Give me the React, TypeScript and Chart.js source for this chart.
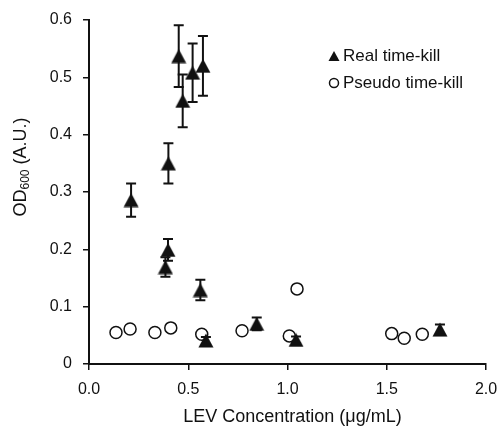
import React, { useEffect, useRef } from 'react';
import { Chart, registerables } from 'chart.js';

Chart.register(...registerables);

// ---- data ----
const realX = [0.212, 0.400, 0.398, 0.385, 0.452, 0.472, 0.522, 0.574, 0.561, 0.589, 0.845, 1.043, 1.768];
const realY = [0.286, 0.350, 0.199, 0.169, 0.537, 0.459, 0.508, 0.520, 0.129, 0.041, 0.070, 0.042, 0.060];
const realErr = [0.029, 0.035, 0.019, 0.017, 0.054, 0.046, 0.051, 0.052, 0.018, 0.006, 0.011, 0.006, 0.009];

const pseudoX = [0.136, 0.207, 0.332, 0.412, 0.568, 0.771, 1.009, 1.048, 1.525, 1.588, 1.679];
const pseudoY = [0.055, 0.061, 0.055, 0.063, 0.052, 0.058, 0.049, 0.131, 0.053, 0.045, 0.052];

const legendLabels = ['Real time-kill', 'Pseudo time-kill'];
const xTitle = 'LEV Concentration (μg/mL)';
const yTitleMain = 'OD';
const yTitleSub = '600';
const yTitleRest = ' (A.U.)';

const FONT = '"Liberation Sans", Arial, sans-serif';
const INK = '#111';

function makeTriangle(w: number, h: number): HTMLCanvasElement {
  const c = document.createElement('canvas');
  c.width = w;
  c.height = h;
  const g = c.getContext('2d')!;
  g.fillStyle = INK;
  g.beginPath();
  g.moveTo(w / 2, 0.5);
  g.lineTo(w - 0.5, h - 0.5);
  g.lineTo(0.5, h - 0.5);
  g.closePath();
  g.fill();
  return c;
}

const errorBars = {
  id: 'errorBars',
  afterDatasetsDraw(chart: any) {
    const meta = chart.getDatasetMeta(0);
    const ys = chart.scales.y;
    const ctx = chart.ctx;
    ctx.save();
    ctx.strokeStyle = INK;
    ctx.lineWidth = 2;
    meta.data.forEach((pt: any, i: number) => {
      const e = realErr[i];
      const v = realY[i];
      const top = ys.getPixelForValue(v + e);
      const bot = ys.getPixelForValue(v - e);
      ctx.beginPath();
      ctx.moveTo(pt.x, top);
      ctx.lineTo(pt.x, bot);
      ctx.moveTo(pt.x - 5, top);
      ctx.lineTo(pt.x + 5, top);
      ctx.moveTo(pt.x - 5, bot);
      ctx.lineTo(pt.x + 5, bot);
      ctx.stroke();
    });
    ctx.restore();
  },
};

const decorations = {
  id: 'decorations',
  afterDraw(chart: any) {
    const ctx = chart.ctx;
    const area = chart.chartArea;
    ctx.save();
    ctx.fillStyle = INK;

    // x title
    ctx.font = `18px ${FONT}`;
    ctx.textAlign = 'center';
    ctx.textBaseline = 'alphabetic';
    ctx.fillText(xTitle, (area.left + area.right) / 2 + 5, 422);

    // y title with subscript
    ctx.save();
    ctx.translate(26, 167);
    ctx.rotate(-Math.PI / 2);
    ctx.textAlign = 'left';
    ctx.textBaseline = 'alphabetic';
    ctx.font = `18px ${FONT}`;
    const w1 = ctx.measureText(yTitleMain).width;
    const w3 = ctx.measureText(yTitleRest).width;
    ctx.font = `12px ${FONT}`;
    const w2 = ctx.measureText(yTitleSub).width;
    let x = -(w1 + w2 + w3) / 2;
    ctx.font = `18px ${FONT}`;
    ctx.fillText(yTitleMain, x, 0);
    x += w1;
    ctx.font = `12px ${FONT}`;
    ctx.fillText(yTitleSub, x, 3);
    x += w2;
    ctx.font = `18px ${FONT}`;
    ctx.fillText(yTitleRest, x, 0);
    ctx.restore();

    // legend
    ctx.font = `17px ${FONT}`;
    ctx.textAlign = 'left';
    ctx.textBaseline = 'middle';
    ctx.beginPath();
    ctx.moveTo(334, 51);
    ctx.lineTo(339.5, 61);
    ctx.lineTo(328.5, 61);
    ctx.closePath();
    ctx.fill();
    ctx.fillText(legendLabels[0], 343, 56);
    ctx.beginPath();
    ctx.arc(334, 83, 4.5, 0, Math.PI * 2);
    ctx.fillStyle = '#fff';
    ctx.fill();
    ctx.strokeStyle = INK;
    ctx.lineWidth = 1.5;
    ctx.stroke();
    ctx.fillStyle = INK;
    ctx.fillText(legendLabels[1], 343, 83);
    ctx.restore();
  },
};

export default function App() {
  const ref = useRef<HTMLCanvasElement>(null);

  useEffect(() => {
    if (!ref.current) return;
    const tri = makeTriangle(16, 15);
    const axisCommon = {
      grid: {
        display: true,
        drawOnChartArea: false,
        drawTicks: true,
        tickLength: 6,
        color: INK,
        lineWidth: 1.5,
      },
      border: { display: true, color: INK, width: 2 },
    };
    const chart = new Chart(ref.current, {
      type: 'scatter',
      data: {
        datasets: [
          {
            label: legendLabels[0],
            data: realX.map((x, i) => ({ x, y: realY[i] })),
            pointStyle: tri as any,
            pointRadius: 8,
            backgroundColor: INK,
            borderColor: INK,
          },
          {
            label: legendLabels[1],
            data: pseudoX.map((x, i) => ({ x, y: pseudoY[i] })),
            pointStyle: 'circle',
            pointRadius: 6,
            borderWidth: 1.5,
            backgroundColor: '#fff',
            borderColor: INK,
          },
        ],
      },
      options: {
        responsive: false,
        animation: false,
        layout: { padding: { left: 0, top: 20, right: 14, bottom: 0 } },
        plugins: {
          legend: { display: false },
          tooltip: { enabled: false },
          title: { display: false },
        },
        scales: {
          x: {
            type: 'linear',
            min: 0,
            max: 2,
            ...axisCommon,
            ticks: {
              stepSize: 0.5,
              padding: 10,
              color: INK,
              font: { size: 16, family: FONT },
              callback: (v: any) => Number(v).toFixed(1),
            },
            afterFit: (s: any) => {
              s.height = 65;
              s.paddingLeft = 0;
              s.paddingRight = 0;
            },
          },
          y: {
            type: 'linear',
            min: 0,
            max: 0.6,
            ...axisCommon,
            ticks: {
              stepSize: 0.1,
              padding: 11,
              color: INK,
              font: { size: 16, family: FONT },
              callback: (v: any) => (Math.abs(v) < 1e-9 ? '0' : Number(v).toFixed(1)),
            },
            afterFit: (s: any) => {
              s.width = 89;
              s.paddingTop = 0;
              s.paddingBottom = 0;
            },
          },
        },
      },
      plugins: [errorBars, decorations],
    });
    return () => chart.destroy();
  }, []);

  return (
    <div style={{ position: 'absolute', left: 0, top: 0, width: 500, height: 429, background: '#fff' }}>
      <canvas ref={ref} width={500} height={429} style={{ width: 500, height: 429, display: 'block' }} />
    </div>
  );
}
